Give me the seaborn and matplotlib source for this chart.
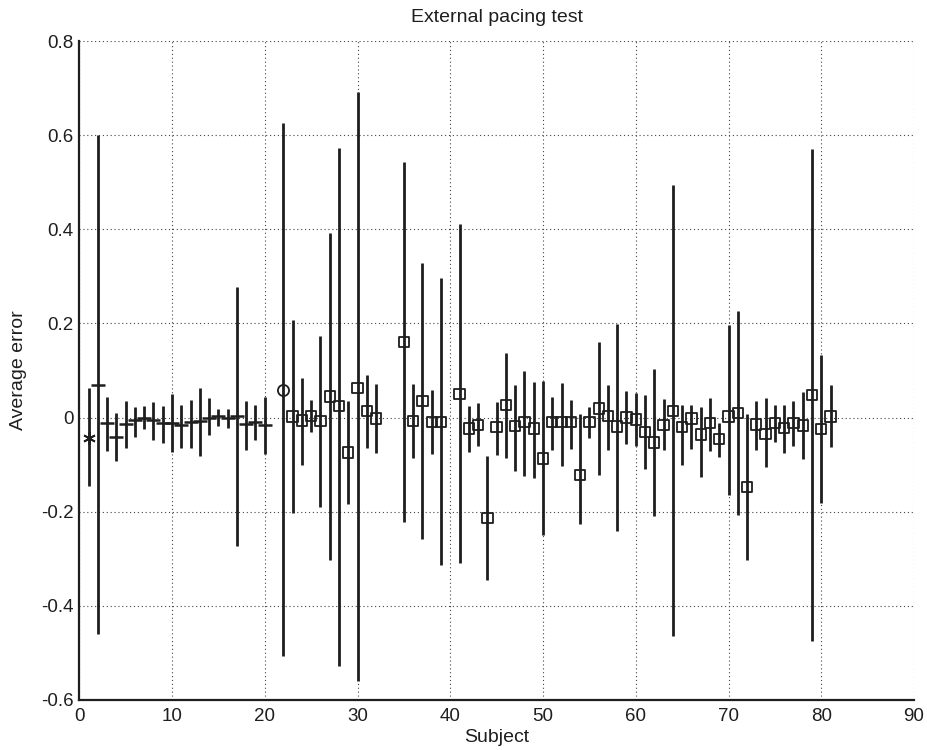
import matplotlib
matplotlib.use("Agg")
import matplotlib.pyplot as plt
import seaborn as sns
import pandas as pd
import numpy as np

# ---- data ----
subjects = [1, 2, 3, 4, 5, 6, 7, 8, 9, 10, 11, 12, 13, 14, 15, 16, 17, 18, 19, 20,
            22, 23, 24, 25, 26, 27, 28, 29, 30, 31, 32, 35, 36, 37, 38, 39, 41, 42, 43,
            44, 45, 46, 47, 48, 49, 50, 51, 52, 53, 54, 55, 56, 57, 58, 59, 60, 61, 62,
            63, 64, 65, 66, 67, 68, 69, 70, 71, 72, 73, 74, 75, 76, 77, 78, 79, 80, 81]
means = [-0.043, 0.069, -0.012, -0.041, -0.014, -0.006, 0.000, -0.006, -0.012, -0.012,
         -0.016, -0.010, -0.008, 0.000, 0.004, 0.000, 0.004, -0.014, -0.010, -0.016,
         0.058, 0.002, -0.006, 0.004, -0.008, 0.045, 0.024, -0.074, 0.063, 0.014,
         -0.002, 0.161, -0.008, 0.035, -0.010, -0.010, 0.050, -0.023, -0.016,
         -0.214, -0.020, 0.027, -0.018, -0.010, -0.023, -0.087, -0.010, -0.010, -0.010,
         -0.122, -0.010, 0.019, 0.004, -0.019, 0.000, -0.004, -0.031, -0.053,
         -0.016, 0.014, -0.020, -0.002, -0.036, -0.011, -0.046, 0.002, 0.010, -0.148,
         -0.015, -0.035, -0.012, -0.022, -0.012, -0.017, 0.048, -0.025, 0.002]
upper = [0.063, 0.600, 0.043, 0.010, 0.036, 0.022, 0.025, 0.034, 0.025, 0.051,
         0.027, 0.038, 0.063, 0.041, 0.019, 0.018, 0.278, 0.035, 0.027, 0.043,
         0.626, 0.207, 0.085, 0.038, 0.173, 0.392, 0.573, 0.035, 0.692, 0.090,
         0.071, 0.542, 0.071, 0.329, 0.059, 0.297, 0.412, 0.024, 0.030,
         -0.081, 0.033, 0.137, 0.070, 0.100, 0.075, 0.078, 0.043, 0.073, 0.038,
         0.008, 0.023, 0.160, 0.069, 0.199, 0.056, 0.053, 0.049, 0.104,
         0.039, 0.494, 0.026, 0.026, 0.023, 0.041, -0.012, 0.197, 0.227, 0.008,
         0.036, 0.041, 0.026, 0.026, 0.036, 0.054, 0.570, 0.132, 0.069]
lower = [-0.146, -0.460, -0.071, -0.092, -0.064, -0.041, -0.025, -0.048, -0.054, -0.074,
         -0.064, -0.064, -0.081, -0.038, -0.017, -0.023, -0.273, -0.068, -0.048, -0.078,
         -0.506, -0.203, -0.100, -0.030, -0.190, -0.302, -0.527, -0.183, -0.560, -0.064,
         -0.076, -0.221, -0.085, -0.259, -0.078, -0.314, -0.308, -0.074, -0.061,
         -0.346, -0.079, -0.085, -0.114, -0.125, -0.129, -0.250, -0.068, -0.102, -0.066,
         -0.227, -0.044, -0.122, -0.068, -0.241, -0.056, -0.061, -0.109, -0.209,
         -0.068, -0.464, -0.100, -0.066, -0.126, -0.070, -0.083, -0.165, -0.206, -0.302,
         -0.068, -0.106, -0.051, -0.076, -0.060, -0.087, -0.474, -0.182, -0.063]
# marker group per subject: star (1), dash (2-20), circle (22), square (23+)
groups = ["star"] + ["dash"] * 19 + ["circle"] + ["square"] * 56

title_text = "External pacing test"
x_label = "Subject"
y_label = "Average error"
x_ticks = [0, 10, 20, 30, 40, 50, 60, 70, 80, 90]
y_ticks = [-0.6, -0.4, -0.2, 0, 0.2, 0.4, 0.6, 0.8]
y_tick_labels = ["-0.6", "-0.4", "-0.2", "0", "0.2", "0.4", "0.6", "0.8"]

df = pd.DataFrame({"subject": subjects, "mean": means, "lo": lower, "hi": upper, "group": groups})

# ---- style ----
sns.set_theme(style="white")
plt.rcParams["font.family"] = ["Liberation Sans Narrow", "Liberation Sans", "DejaVu Sans"]

fig = plt.figure(figsize=(9.27, 7.5), dpi=100)
ax = fig.add_axes([0.0855, 0.0667, 0.9005, 0.8786])

ink = "#1e1e1e"

# error bars
ax.errorbar(df["subject"], df["mean"],
            yerr=[df["mean"] - df["lo"], df["hi"] - df["mean"]],
            fmt="none", ecolor=ink, elinewidth=2.0, capsize=0, zorder=2)

# markers
sq = df[df["group"] == "square"]
sns.scatterplot(data=sq, x="subject", y="mean", marker="s", s=55,
                facecolors="none", edgecolor=ink, linewidth=1.3, ax=ax, zorder=3)
st = df[df["group"] == "star"]
ax.plot(st["subject"], st["mean"], linestyle="none", marker=(6, 2, 0),
        markersize=9, color=ink, markeredgewidth=1.3, zorder=3)
da = df[df["group"] == "dash"]
ax.plot(da["subject"], da["mean"], linestyle="none", marker="_",
        markersize=10, color=ink, markeredgewidth=1.8, zorder=3)
ci = df[df["group"] == "circle"]
ax.plot(ci["subject"], ci["mean"], linestyle="none", marker="o",
        markersize=8, markerfacecolor="none", color=ink, markeredgewidth=1.3, zorder=3)

ax.set_xlim(0, 90)
ax.set_ylim(-0.6, 0.8)
ax.set_xticks(x_ticks)
ax.set_yticks(y_ticks)
ax.set_yticklabels(y_tick_labels)

ax.grid(True, linestyle=(0, (1, 2.5)), color="#444444", linewidth=0.8)
ax.set_axisbelow(True)
for side in ["top", "right"]:
    ax.spines[side].set_visible(False)
for side in ["left", "bottom"]:
    ax.spines[side].set_color(ink)
    ax.spines[side].set_linewidth(1.6)

ax.tick_params(axis="both", direction="in", length=8, width=1.4, colors=ink,
               labelsize=13.5)
ax.tick_params(axis="x", pad=6)
ax.tick_params(axis="y", pad=4)
ax.set_xlabel(x_label, fontsize=14, color=ink, labelpad=3)
ax.set_ylabel(y_label, fontsize=14, color=ink, labelpad=10)
ax.set_title(title_text, fontsize=14, color=ink, pad=14)
if ax.legend_ is not None:
    ax.legend_.remove()

fig.savefig("out.png", dpi=100)
